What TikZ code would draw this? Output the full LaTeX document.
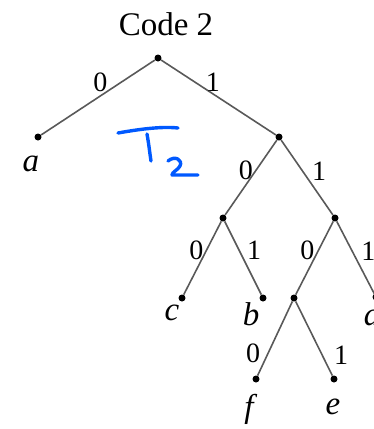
\documentclass[tikz,border=0pt]{standalone}
\usepackage{fontspec}
\setmainfont{Liberation Serif}

\begin{document}
\begin{tikzpicture}[
    x=1pt, y=-1pt,
    dot/.style={
        circle,
        fill=black,
        inner sep=0pt,
        minimum size=7pt
    },
    edge/.style={
        draw=black!65,
        line width=1.6pt
    },
    bit/.style={
        font=\fontsize{28}{32}\selectfont,
        inner sep=0pt
    },
    leaf/.style={
        font=\fontsize{33}{37}\selectfont\itshape,
        inner sep=0pt
    },
    ink/.style={
        draw=blue!65!cyan,
        line width=3.4pt,
        line cap=round,
        line join=round
    }
]
\useasboundingbox (0,0) rectangle (373,429);

\node[font=\fontsize{33}{37}\selectfont] (title) at (166,24) {Code 2};

% tree nodes
\node[dot] (root) at (158,58) {};
\node[dot] (a) at (38,137) {};
\node[dot] (r) at (279,137) {};
\node[dot] (cb) at (223,218) {};
\node[dot] (fd) at (335,218) {};
\node[dot] (c) at (182,298) {};
\node[dot] (b) at (263,298) {};
\node[dot] (fe) at (294,298) {};
\node[dot] (d) at (376,297) {};
\node[dot] (f) at (256,379) {};
\node[dot] (e) at (334,379) {};

% leaf names
\node[leaf] (na) at (31,164) {a};
\node[leaf] (nc) at (172,313) {c};
\node[leaf] (nb) at (251,314) {b};
\node[leaf] (nd) at (372,314) {d};
\node[leaf] (nf) at (249,409) {f};
\node[leaf] (ne) at (333,407) {e};

% branches
\draw[edge] (root) -- node[bit, pos=0.48, above=3pt] (b1) {0} (a);
\draw[edge] (root) -- node[bit, pos=0.45, above=1pt] (b2) {1} (r);
\draw[edge] (r) -- node[bit, pos=0.41, left=2pt] (b3) {0} (cb);
\draw[edge] (r) -- node[bit, pos=0.41, right=9pt] (b4) {1} (fd);
\draw[edge] (cb) -- node[bit, pos=0.4, left=2pt] (b5) {0} (c);
\draw[edge] (cb) -- node[bit, pos=0.4, right=7pt] (b6) {1} (b);
\draw[edge] (fd) -- node[bit, pos=0.4, left=3pt] (b7) {0} (fe);
\draw[edge] (fd) -- node[bit, pos=0.42, right=8pt] (b8) {1} (d);
\draw[edge] (fe) -- node[bit, pos=0.7, left=7pt] (b9) {0} (f);
\draw[edge] (fe) -- node[bit, pos=0.73, right=11pt] (b10) {1} (e);

% handwritten T_2
\draw[ink] (118,133) .. controls (135,130) and (160,126) .. (178,128);
\draw[ink] (147,134) .. controls (149,145) and (150,155) .. (151,161);
\draw[ink] (168,161) .. controls (175,155) and (183,160) .. (180,166)
    .. controls (178,170) and (172,172) .. (172,175) -- (198,175);

\end{tikzpicture}
\end{document}
